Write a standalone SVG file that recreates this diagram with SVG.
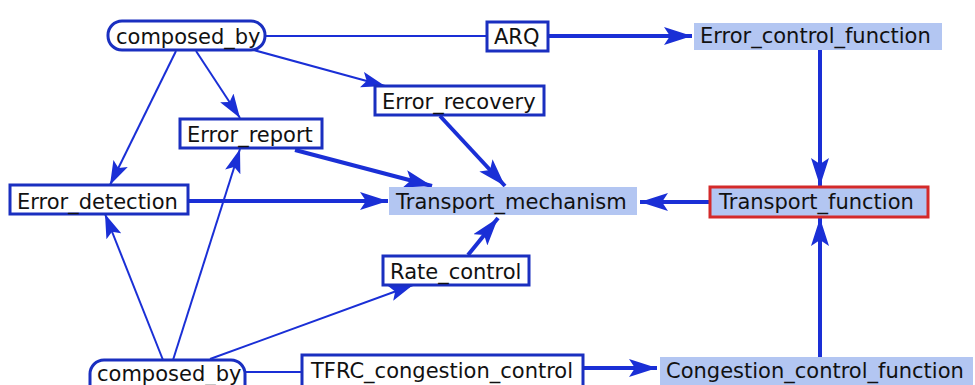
<svg xmlns="http://www.w3.org/2000/svg" width="975" height="385" viewBox="0 0 975 385">
<defs>
<style>
.t{font-family:"DejaVu Sans",sans-serif;font-size:21px;fill:#111}
.box{fill:#fff;stroke:#1a2fc0;stroke-width:3}
.hl{fill:#b3c6f2;stroke:none}
.red{fill:#b3c6f2;stroke:#d42a2a;stroke-width:3}
.thin{stroke:#1a2fd6;stroke-width:2;fill:none}
.thick{stroke:#1a2fd6;stroke-width:4;fill:none}
</style>
<marker id="ah" markerUnits="userSpaceOnUse" viewBox="0 0 28 18" refX="28" refY="9" markerWidth="28" markerHeight="18" orient="auto">
<path d="M0,0 L28,9 L0,18 L6,9 Z" fill="#1a2fd6"/>
</marker>
<marker id="as" markerUnits="userSpaceOnUse" viewBox="0 0 24 16" refX="24" refY="8" markerWidth="24" markerHeight="16" orient="auto">
<path d="M0,0 L24,8 L0,16 L5,8 Z" fill="#1a2fd6"/>
</marker>
</defs>
<rect width="975" height="385" fill="#fff"/>
<g id="connectors">
<line class="thin" x1="176" y1="51" x2="110" y2="185" marker-end="url(#as)"/>
<line class="thin" x1="196" y1="51" x2="240" y2="118" marker-end="url(#as)"/>
<line class="thin" x1="250" y1="49" x2="385" y2="86" marker-end="url(#as)"/>
<line class="thin" x1="265" y1="36" x2="487" y2="36"/>
<line class="thick" x1="548" y1="36" x2="692" y2="36" marker-end="url(#ah)"/>
<line class="thick" x1="820" y1="50" x2="820" y2="186" marker-end="url(#ah)"/>
<line class="thick" x1="820" y1="357" x2="820" y2="218" marker-end="url(#ah)"/>
<line class="thick" x1="709" y1="202" x2="640" y2="202" marker-end="url(#ah)"/>
<line class="thick" x1="188" y1="201" x2="388" y2="201" marker-end="url(#ah)"/>
<line class="thick" x1="295" y1="150" x2="432" y2="186" marker-end="url(#ah)"/>
<line class="thick" x1="440" y1="116" x2="505" y2="186" marker-end="url(#ah)"/>
<line class="thick" x1="468" y1="255" x2="498" y2="218" marker-end="url(#ah)"/>
<line class="thin" x1="163" y1="360" x2="105" y2="214" marker-end="url(#as)"/>
<line class="thin" x1="173" y1="360" x2="240" y2="149" marker-end="url(#as)"/>
<line class="thin" x1="210" y1="359" x2="413" y2="285" marker-end="url(#as)"/>
<line class="thin" x1="245" y1="372" x2="302" y2="372"/>
<line class="thick" x1="583" y1="368" x2="657" y2="368" marker-end="url(#ah)"/>
</g>
<g id="composed_by_top">
<rect class="box" x="108" y="21" width="157" height="29" rx="14" ry="14" stroke-width="2"/>
<text class="t" x="116" y="44">composed_by</text>
</g>
<g id="ARQ">
<rect class="box" x="487" y="22" width="61" height="29"/>
<text class="t" x="494" y="44">ARQ</text>
</g>
<g id="Error_control_function">
<rect class="hl" x="694" y="23" width="248" height="27"/>
<text class="t" x="700" y="43">Error_control_function</text>
</g>
<g id="Error_recovery">
<rect class="box" x="375" y="86" width="169" height="29"/>
<text class="t" x="382" y="109">Error_recovery</text>
</g>
<g id="Error_report">
<rect class="box" x="180" y="119" width="142" height="29"/>
<text class="t" x="187" y="142">Error_report</text>
</g>
<g id="Error_detection">
<rect class="box" x="10" y="185" width="178" height="29"/>
<text class="t" x="17" y="209">Error_detection</text>
</g>
<g id="Transport_mechanism">
<rect class="hl" x="389" y="187" width="248" height="28"/>
<text class="t" x="396" y="209">Transport_mechanism</text>
</g>
<g id="Transport_function">
<rect class="red" x="710" y="187" width="218" height="30"/>
<text class="t" x="719" y="209">Transport_function</text>
</g>
<g id="Rate_control">
<rect class="box" x="383" y="256" width="146" height="29"/>
<text class="t" x="390" y="279">Rate_control</text>
</g>
<g id="composed_by_bottom">
<rect class="box" x="90" y="360" width="155" height="40" rx="14" ry="14" stroke-width="2"/>
<text class="t" x="97" y="381">composed_by</text>
</g>
<g id="TFRC_congestion_control">
<rect class="box" x="302" y="355" width="281" height="40"/>
<text class="t" x="311" y="378">TFRC_congestion_control</text>
</g>
<g id="Congestion_control_function">
<rect class="hl" x="660" y="357" width="313" height="30"/>
<text class="t" x="666" y="378">Congestion_control_function</text>
</g>
</svg>
